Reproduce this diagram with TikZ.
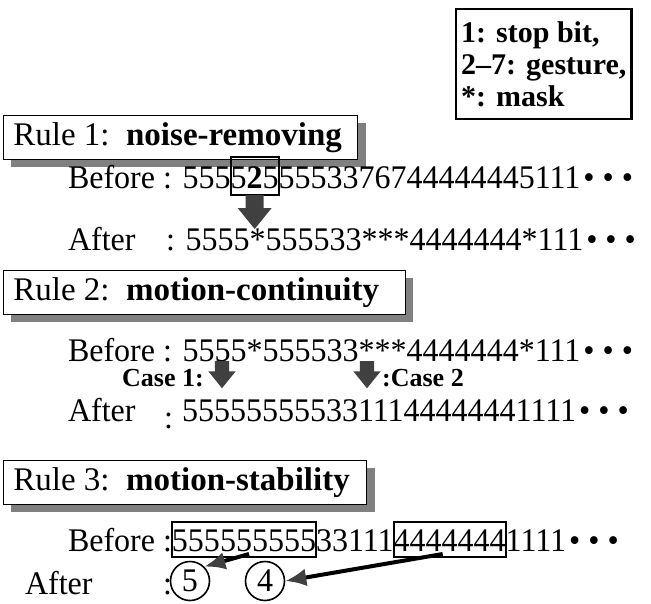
\documentclass[tikz,border=0pt]{standalone}
\usepackage{fontspec}
\setmainfont{Liberation Serif}
\newfontfamily\seqfont[FakeStretch=0.97]{Liberation Serif}
\usetikzlibrary{arrows.meta,shadows,calc}
\definecolor{arrowgray}{HTML}{404040}
\definecolor{shadowgray}{HTML}{808080}

\tikzset{
  seq/.style={inner sep=0pt, outer sep=0pt, anchor=base west,
    font=\seqfont\fontsize{33}{35}\selectfont},
  boxed/.style={seq, draw, line width=2pt},
  rulebox/.style={draw, line width=0.8pt, fill=white, anchor=north west,
    minimum height=44pt, inner xsep=10pt, font=\fontsize{33}{35}\selectfont,
    drop shadow={shadow xshift=8pt, shadow yshift=-8pt, fill=shadowgray, opacity=1, draw=none}},
  keybox/.style={draw, line width=2.4pt, anchor=north west, align=left,
    minimum width=173pt, minimum height=110pt, inner xsep=5pt,
    font=\bfseries\fontsize{30}{32}\selectfont},
  casetxt/.style={inner sep=0pt, anchor=base west, font=\bfseries\fontsize{26}{28}\selectfont},
  circ/.style={draw, circle, line width=1.6pt, minimum size=39pt, inner sep=0pt,
    font=\seqfont\fontsize{33}{35}\selectfont},
  fatarrow/.style={line width=4pt, -{Latex[length=21pt, width=18pt, color=arrowgray]}},
  downarrow/.pic={\fill[arrowgray] (-9,0) -- (-9,-13) -- (-17,-13) -- (0,-34)
    -- (17,-13) -- (9,-13) -- (9,0) -- cycle;}
}
\newcommand{\seqdots}{\kern3pt•\ •\ •}

\begin{document}
\begin{tikzpicture}[x=1pt, y=1pt]
\useasboundingbox (0,0) rectangle (651,-603);

% legend
\node[keybox] (key) at (455,-8) {1: stop bit,\\2--7: gesture,\\*: mask};

% rule 1
\node[rulebox] (rule1) at (3,-115) {Rule 1:~~\textbf{noise-removing}\hspace*{6pt}};
\node[seq] (bef1) at (68,-188) {Before : 555};
\node[boxed, text height=31pt, text depth=7pt] (noise) at (bef1.base east) {5\textbf{2}5};
\node[seq] (bef1r) at (noise.base east) {5553376744444445111};
\node[seq] (bef1d) at (bef1r.base east) {\seqdots};
\pic at (noise.south) {downarrow};
\node[seq] (aft1) at (68,-250) {After};
\node[seq] (aft1r) at (166,-250) {: 5555*555533***4444444*111};
\node[seq] (aft1d) at (aft1r.base east) {\seqdots};

% rule 2
\node[rulebox] (rule2) at (3,-270) {Rule 2:~~\textbf{motion-continuity}\hspace*{16pt}};
\node[seq] (bef2) at (68,-361) {Before : 5555*555533***4444444*111};
\node[seq] (bef2d) at (bef2.base east) {\seqdots};
\node[casetxt] (case1) at (122,-386) {Case 1:};
\pic[scale=0.8] at (222,-361) {downarrow};
\pic[scale=0.8] at (367,-361) {downarrow};
\node[casetxt] (case2) at (382,-386) {:Case 2};
\node[seq] (aft2) at (68,-421) {After};
\node[seq] (aft2c) at (164,-428) {:};
\node[seq] (aft2r) at (182,-421) {5555555553311144444441111};
\node[seq] (aft2d) at (aft2r.base east) {\seqdots};

% rule 3
\node[rulebox] (rule3) at (3,-460) {Rule 3:~~\textbf{motion-stability}\hspace*{7pt}};
\node[seq] (bef3) at (68,-551) {Before :};
\node[boxed, text height=29pt, text depth=6pt] (fives) at (bef3.base east) {555555555};
\node[seq] (bef3m) at (fives.base east) {33111};
\node[boxed, text height=29pt, text depth=6pt] (fours) at (bef3m.base east) {4444444};
\node[seq] (bef3r) at (fours.base east) {1111};
\node[seq] (bef3d) at (bef3r.base east) {\seqdots};
\node[seq] (aft3) at (25,-594) {After};
\node[seq] (aft3c) at (163,-594) {:};
\node[circ] (five) at (190,-581) {5};
\node[circ] (four) at (265,-581) {4};
\draw[fatarrow] ($(fives.south)+(5,3)$) -- (five.north east);
\draw[fatarrow] ($(fours.south)+(-7,3)$) -- (four.east);
\end{tikzpicture}
\end{document}
